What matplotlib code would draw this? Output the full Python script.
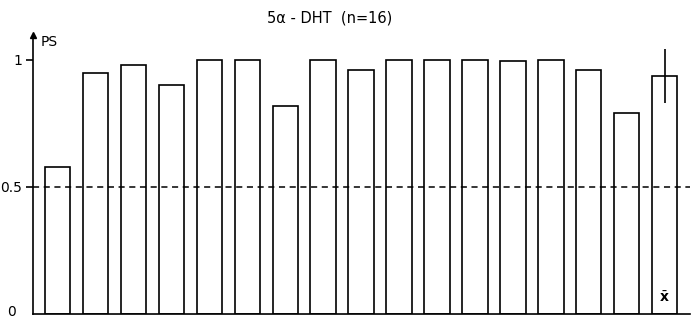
import matplotlib.pyplot as plt
import matplotlib.transforms as mtransforms
import numpy as np

# PS per animal (n=16) plus the mean bar
ps_values = [0.58, 0.95, 0.98, 0.90, 1.00, 1.00, 0.82, 1.00, 0.96,
             1.00, 1.00, 1.00, 0.995, 1.00, 0.96, 0.79]
mean_value = 0.937
mean_err = 0.105
y_ticks = [0, 0.5, 1]
y_tick_labels = ['0', '0.5', '1']
threshold = 0.5

fig = plt.figure(figsize=(6.96, 3.18), dpi=100)
# axes: pixel x 33..690, y baseline at 314, top at 35
ax = fig.add_axes([33 / 696, 4 / 318, (690 - 33) / 696, (314 - 35) / 318])

values = ps_values + [mean_value]
x = np.arange(len(values))
ax.bar(x, values, width=0.672, facecolor='white', edgecolor='black', linewidth=1.2)
ax.errorbar(x[-1], mean_value, yerr=mean_err, fmt='none', ecolor='black',
            elinewidth=1.2, capsize=0)
ax.text(x[-1], 0.035, r'$\bar{\mathbf{x}}$', ha='center', va='bottom', fontsize=10)

ax.axhline(threshold, color='black', linestyle=(0, (4, 3)), linewidth=1.1)

ax.set_xlim(-0.651, 16.67)
ax.set_ylim(0, 1.098)

for side in ['top', 'right']:
    ax.spines[side].set_visible(False)
ax.spines['left'].set_linewidth(1.2)
ax.spines['bottom'].set_linewidth(1.2)
ax.set_xticks([])
ax.set_yticks(y_ticks)
ax.set_yticklabels(y_tick_labels, fontsize=10)
ax.tick_params(axis='y', direction='out', length=5, width=1.2, pad=3)

# nudge the "0" label up and left so it stays inside the figure
zero_label = ax.get_yticklabels()[0]
zero_label.set_transform(zero_label.get_transform() +
                         mtransforms.ScaledTranslation(-6 / 100, 3 / 100, fig.dpi_scale_trans))
ax.tick_params(axis='y', which='major', left=True)
ax.get_yticklines()[0].set_visible(False)

# arrow head on the y axis and its label
ax.plot([0], [1], marker='^', color='black', markersize=5,
        transform=ax.transAxes, clip_on=False)
ax.text(0.012, 0.975, 'PS', transform=ax.transAxes, ha='left', va='center', fontsize=10)

fig.text(330 / 696, 1 - 18 / 318, '5\u03b1 - DHT  (n=16)', ha='center', va='center', fontsize=10.5)

fig.savefig('out.png', dpi=100)
